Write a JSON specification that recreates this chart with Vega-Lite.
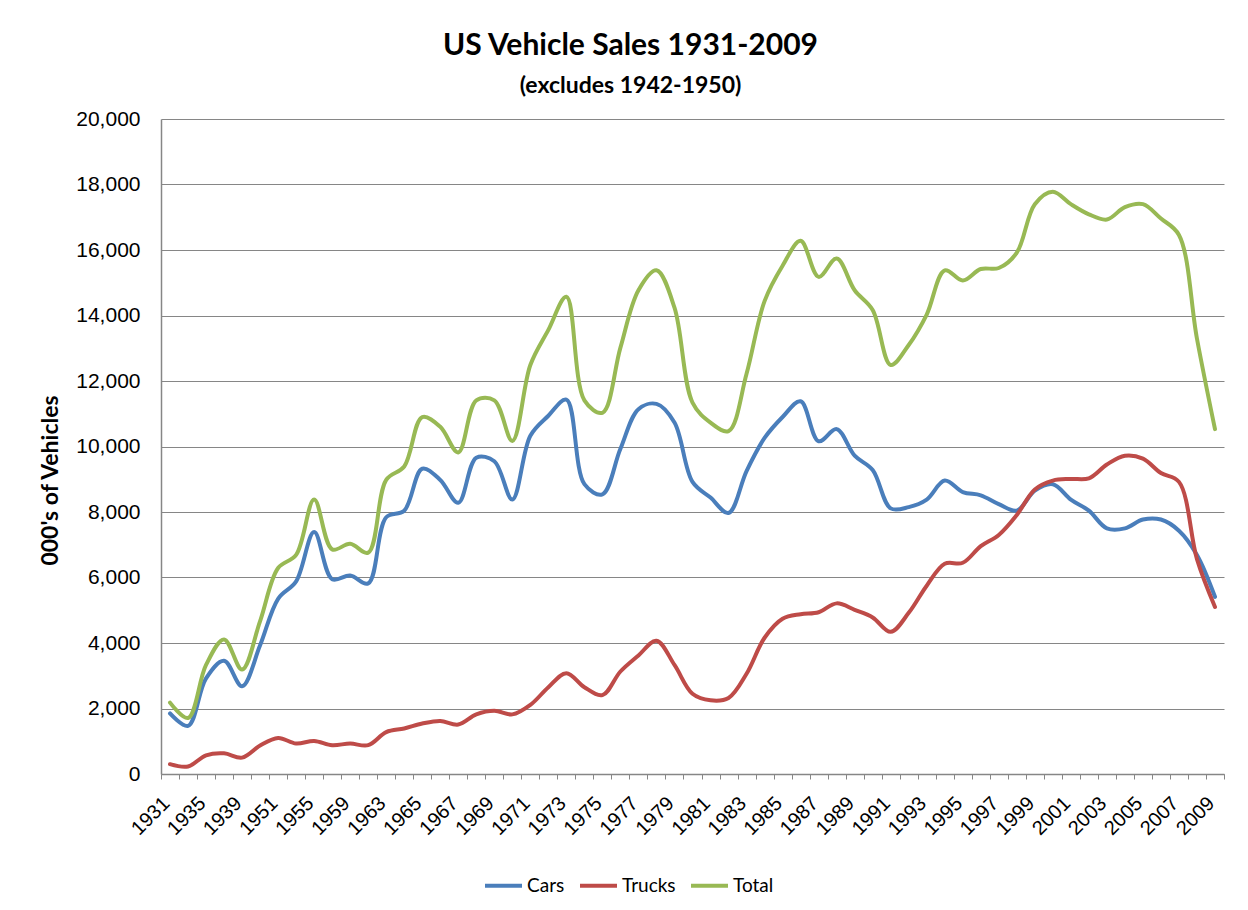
{
  "$schema": "https://vega.github.io/schema/vega-lite/v6.json",
  "width": 1063,
  "height": 655,
  "autosize": {"type": "none"},
  "padding": {"left": 161, "top": 119, "right": 24, "bottom": 136},
  "background": "white",
  "title": {
    "text": "US Vehicle Sales 1931-2009",
    "subtitle": "(excludes 1942-1950)",
    "font": "Lato",
    "fontSize": 30,
    "fontWeight": "bold",
    "color": "black",
    "subtitleFont": "Lato",
    "subtitleFontSize": 23,
    "subtitleFontWeight": "bold",
    "subtitleColor": "black",
    "anchor": "middle",
    "dx": -62,
    "offset": 10,
    "subtitlePadding": 14
  },
  "data": {
    "values": [
      {"year": "1931", "Cars": 1850, "Trucks": 300, "Total": 2180},
      {"year": "1933", "Cars": 1470, "Trucks": 230, "Total": 1710},
      {"year": "1935", "Cars": 2920, "Trucks": 570, "Total": 3330},
      {"year": "1937", "Cars": 3460, "Trucks": 630, "Total": 4110},
      {"year": "1939", "Cars": 2680, "Trucks": 500, "Total": 3190},
      {"year": "1941", "Cars": 3930, "Trucks": 870, "Total": 4670},
      {"year": "1951", "Cars": 5350, "Trucks": 1100, "Total": 6290},
      {"year": "1953", "Cars": 5880, "Trucks": 930, "Total": 6690},
      {"year": "1955", "Cars": 7390, "Trucks": 1010, "Total": 8380},
      {"year": "1957", "Cars": 5950, "Trucks": 880, "Total": 6860},
      {"year": "1959", "Cars": 6060, "Trucks": 930, "Total": 7030},
      {"year": "1961", "Cars": 5820, "Trucks": 880, "Total": 6760},
      {"year": "1963", "Cars": 7840, "Trucks": 1280, "Total": 8980},
      {"year": "1964", "Cars": 8040, "Trucks": 1390, "Total": 9390},
      {"year": "1965", "Cars": 9320, "Trucks": 1540, "Total": 10900},
      {"year": "1966", "Cars": 8980, "Trucks": 1620, "Total": 10600},
      {"year": "1967", "Cars": 8280, "Trucks": 1510, "Total": 9820},
      {"year": "1968", "Cars": 9660, "Trucks": 1820, "Total": 11410},
      {"year": "1969", "Cars": 9550, "Trucks": 1930, "Total": 11410},
      {"year": "1970", "Cars": 8380, "Trucks": 1820, "Total": 10170},
      {"year": "1971", "Cars": 10330, "Trucks": 2110, "Total": 12490},
      {"year": "1972", "Cars": 10940, "Trucks": 2650, "Total": 13560},
      {"year": "1973", "Cars": 11430, "Trucks": 3080, "Total": 14570},
      {"year": "1974", "Cars": 8850, "Trucks": 2650, "Total": 11410},
      {"year": "1975", "Cars": 8540, "Trucks": 2410, "Total": 11030},
      {"year": "1976", "Cars": 9930, "Trucks": 3130, "Total": 13020},
      {"year": "1977", "Cars": 11140, "Trucks": 3620, "Total": 14770},
      {"year": "1978", "Cars": 11300, "Trucks": 4070, "Total": 15380},
      {"year": "1979", "Cars": 10730, "Trucks": 3330, "Total": 14240},
      {"year": "1980", "Cars": 8920, "Trucks": 2450, "Total": 11340},
      {"year": "1981", "Cars": 8440, "Trucks": 2250, "Total": 10730},
      {"year": "1982", "Cars": 7970, "Trucks": 2320, "Total": 10470},
      {"year": "1983", "Cars": 9250, "Trucks": 3060, "Total": 12220},
      {"year": "1984", "Cars": 10260, "Trucks": 4160, "Total": 14440},
      {"year": "1985", "Cars": 10900, "Trucks": 4740, "Total": 15520},
      {"year": "1986", "Cars": 11380, "Trucks": 4880, "Total": 16280},
      {"year": "1987", "Cars": 10160, "Trucks": 4940, "Total": 15180},
      {"year": "1988", "Cars": 10530, "Trucks": 5210, "Total": 15740},
      {"year": "1989", "Cars": 9720, "Trucks": 5010, "Total": 14770},
      {"year": "1990", "Cars": 9280, "Trucks": 4780, "Total": 14170},
      {"year": "1991", "Cars": 8110, "Trucks": 4340, "Total": 12490},
      {"year": "1992", "Cars": 8150, "Trucks": 4920, "Total": 13100},
      {"year": "1993", "Cars": 8380, "Trucks": 5750, "Total": 14030},
      {"year": "1994", "Cars": 8960, "Trucks": 6420, "Total": 15380},
      {"year": "1995", "Cars": 8610, "Trucks": 6450, "Total": 15070},
      {"year": "1996", "Cars": 8510, "Trucks": 6960, "Total": 15420},
      {"year": "1997", "Cars": 8240, "Trucks": 7300, "Total": 15450},
      {"year": "1998", "Cars": 8040, "Trucks": 7910, "Total": 15920},
      {"year": "1999", "Cars": 8650, "Trucks": 8690, "Total": 17400},
      {"year": "2000", "Cars": 8850, "Trucks": 8960, "Total": 17780},
      {"year": "2001", "Cars": 8380, "Trucks": 9010, "Total": 17400},
      {"year": "2002", "Cars": 8040, "Trucks": 9030, "Total": 17090},
      {"year": "2003", "Cars": 7500, "Trucks": 9450, "Total": 16930},
      {"year": "2004", "Cars": 7500, "Trucks": 9720, "Total": 17310},
      {"year": "2005", "Cars": 7770, "Trucks": 9630, "Total": 17400},
      {"year": "2006", "Cars": 7770, "Trucks": 9190, "Total": 16960},
      {"year": "2007", "Cars": 7430, "Trucks": 8920, "Total": 16460},
      {"year": "2008", "Cars": 6690, "Trucks": 6560, "Total": 13290},
      {"year": "2009", "Cars": 5410, "Trucks": 5100, "Total": 10530}
    ]
  },
  "transform": [
    {"fold": ["Cars", "Trucks", "Total"], "as": ["series", "value"]}
  ],
  "mark": {
    "type": "line",
    "interpolate": "catmull-rom",
    "strokeWidth": 4,
    "strokeCap": "round",
    "strokeJoin": "round"
  },
  "encoding": {
    "x": {
      "field": "year",
      "type": "ordinal",
      "sort": null,
      "scale": {"type": "band", "paddingInner": 0, "paddingOuter": 0},
      "axis": {
        "title": null,
        "tickBand": "extent",
        "tickSize": 5,
        "tickColor": "#868686",
        "domainColor": "#868686",
        "domainWidth": 1.5,
        "grid": false,
        "labelAngle": -45,
        "labelAlign": "right",
        "labelBaseline": "middle",
        "labelPadding": 21,
        "labelOffset": -4,
        "labelFont": "Liberation Sans",
        "labelFontSize": 20,
        "labelColor": "black",
        "labelOverlap": false,
        "labelExpr": "indexof(['1931','1935','1939','1951','1955','1959','1963','1965','1967','1969','1971','1973','1975','1977','1979','1981','1983','1985','1987','1989','1991','1993','1995','1997','1999','2001','2003','2005','2007','2009'], datum.label) >= 0 ? datum.label : ''"
      }
    },
    "y": {
      "field": "value",
      "type": "quantitative",
      "scale": {"domain": [0, 20000], "nice": false, "zero": true},
      "axis": {
        "title": "000's of Vehicles",
        "titleFont": "Lato",
        "titleFontSize": 23,
        "titleFontWeight": "bold",
        "titleColor": "black",
        "titleX": -99,
        "titleY": 361,
        "values": [0, 2000, 4000, 6000, 8000, 10000, 12000, 14000, 16000, 18000, 20000],
        "format": ",.0f",
        "ticks": false,
        "labelPadding": 21,
        "labelFont": "Liberation Sans",
        "labelFontSize": 21,
        "labelColor": "black",
        "domainColor": "#868686",
        "domainWidth": 1.5,
        "grid": true,
        "gridColor": "#868686",
        "gridWidth": 1
      }
    },
    "color": {
      "field": "series",
      "type": "nominal",
      "scale": {"domain": ["Cars", "Trucks", "Total"], "range": ["#4A7EBB", "#BE4B48", "#98B954"]},
      "legend": {
        "title": null,
        "orient": "none",
        "legendX": 322,
        "legendY": 746,
        "direction": "horizontal",
        "symbolType": "stroke",
        "symbolSize": 1369,
        "symbolStrokeWidth": 4,
        "labelFont": "Lato",
        "labelFontSize": 19,
        "labelColor": "black",
        "labelOffset": 3,
        "columnPadding": 7
      }
    }
  },
  "config": {"view": {"stroke": null}}
}
